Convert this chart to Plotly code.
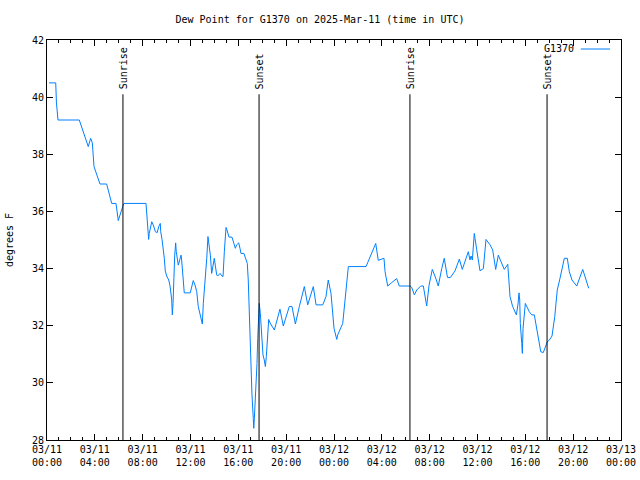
import pandas as pd
import plotly.graph_objects as go

# hours since 2025-03-11 00:00 UTC
hours = [0.17, 0.73, 0.79, 0.92, 2.70, 3.45, 3.65, 3.79, 3.93, 4.43, 4.99, 5.41, 5.77, 5.96, 6.33, 6.44,
         8.28, 8.39, 8.50, 8.55, 8.76, 8.92, 9.06, 9.22, 9.34, 9.47, 9.51, 9.62, 9.73, 9.81, 9.89, 10.01,
         10.18, 10.29, 10.43, 10.48, 10.54, 10.60, 10.68, 10.76, 10.81, 10.98, 11.10, 11.21, 11.26, 11.35,
         11.46, 11.48, 11.98, 12.10, 12.23, 12.38, 12.52, 12.65, 12.79, 12.99, 13.07, 13.19, 13.27, 13.36,
         13.46, 13.55, 13.66, 13.77, 13.88, 13.99, 14.07, 14.19, 14.27, 14.47, 14.63, 14.72, 14.83, 14.97,
         15.05, 15.22, 15.47, 15.58, 15.75, 15.86, 16.03, 16.14, 16.22, 16.47, 16.62, 16.75, 16.83, 16.92,
         16.98, 17.06, 17.14, 17.25, 17.29, 17.34, 17.42, 17.48, 17.56, 17.62, 17.67, 17.75, 17.84, 17.90,
         18.00, 18.06, 18.17, 18.26, 18.34, 18.40, 18.45, 18.54, 18.65, 18.82, 19.01, 19.13, 19.26, 19.48,
         19.76, 20.26, 20.49, 20.77, 21.10, 21.52, 21.80, 22.27, 22.50, 23.06, 23.33, 23.52, 23.75, 24.00,
         24.23, 24.31, 24.73, 24.95, 25.20, 26.68, 26.95, 27.49, 27.70, 27.93, 28.18, 28.27, 28.49, 28.83,
         29.24, 29.46, 30.36, 30.50, 30.72, 30.92, 31.25, 31.47, 31.61, 31.75, 31.95, 32.22, 32.51, 32.72,
         33.01, 33.22, 33.49, 33.74, 34.12, 34.48, 34.73, 35.23, 35.37, 35.46, 35.57, 35.73, 35.93, 36.10,
         36.21, 36.49, 36.71, 37.05, 37.27, 37.52, 37.74, 37.97, 38.24, 38.53, 38.63, 38.72, 38.94, 39.25,
         39.39, 39.47, 39.53, 39.58, 39.70, 39.75, 39.81, 40.00, 40.33, 40.53, 40.75, 40.95, 41.09, 41.29,
         41.50, 41.70, 41.84, 42.01, 42.23, 42.46, 42.67, 42.90, 43.12, 43.26, 43.51, 43.68, 43.90, 44.30,
         44.80, 45.05, 45.30]
dew_point = [40.5, 40.5, 39.8, 39.2, 39.2, 38.27, 38.56, 38.4, 37.57, 36.96, 36.96, 36.28, 36.28, 35.68, 36.17, 36.28,
             36.28, 35.64, 35.02, 35.23, 35.64, 35.49, 35.29, 35.26, 35.47, 35.58, 35.29, 35.02, 34.67, 34.36, 33.92, 33.74,
             33.6, 33.39, 32.9, 32.38, 32.78, 33.6, 34.47, 34.9, 34.59, 34.12, 34.3, 34.47, 34.3, 33.89,
             33.39, 33.15, 33.15, 33.37, 33.58, 33.42, 33.19, 32.67, 32.38, 32.06, 32.78, 33.34, 33.83, 34.36,
             35.12, 34.88, 34.47, 33.83, 34.12, 34.36, 34.12, 33.78, 33.74, 33.83, 33.74, 33.72, 34.59, 35.44,
             35.35, 35.1, 35.1, 34.94, 34.71, 34.83, 34.9, 34.71, 34.53, 34.53, 34.36, 34.18, 33.6, 32.43,
             31.33, 30.33, 29.58, 28.76, 28.41, 28.76, 29.4, 29.98, 30.68, 31.56, 32.38, 32.78, 32.43, 31.91,
             31.33, 30.98, 30.8, 30.57, 30.92, 31.38, 31.96, 32.22, 32.1, 31.96, 31.85, 32.03, 32.26, 32.58,
             31.99, 32.67, 32.67, 32.06, 32.67, 33.37, 32.73, 33.37, 32.73, 32.73, 33.02, 33.6, 33.13, 31.91,
             31.52, 31.68, 32.08, 33.02, 34.07, 34.07, 34.36, 34.88, 34.29, 34.33, 34.36, 33.89, 33.39, 33.51,
             33.65, 33.39, 33.39, 33.34, 33.08, 33.25, 33.39, 33.39, 33.02, 32.69, 33.42, 33.97, 33.66, 33.39,
             34.0, 34.36, 33.69, 33.69, 33.92, 34.33, 33.97, 34.59, 34.3, 34.44, 34.3, 35.23, 34.67, 34.18,
             33.92, 34.0, 35.02, 34.83, 34.65, 33.97, 34.47, 34.24, 33.97, 34.15, 33.6, 33.02, 32.67, 32.38,
             32.76, 33.15, 32.9, 32.08, 31.38, 31.03, 31.91, 32.78, 32.49, 32.38, 32.38, 31.91, 31.5, 31.09,
             31.06, 31.33, 31.44, 31.5, 31.64, 32.32, 33.25, 33.66, 34.07, 34.36, 34.36, 33.89, 33.6, 33.39,
             33.97, 33.66, 33.31]

sun_events = ["2025-03-11 06:21", "2025-03-11 17:44", "2025-03-12 06:21", "2025-03-12 17:49"]
sun_labels = ["Sunrise", "Sunset", "Sunrise", "Sunset"]

tick_times = pd.date_range("2025-03-11 00:00", "2025-03-13 00:00", freq="4h")
tick_text = [t.strftime("%m/%d<br>%H:%M") for t in tick_times]
y_ticks = [28, 30, 32, 34, 36, 38, 40, 42]

start = pd.Timestamp("2025-03-11 00:00")
times = [start + pd.Timedelta(hours=h) for h in hours]

FONT = "DejaVu Sans Mono"
fig = go.Figure()
fig.add_trace(go.Scatter(x=times, y=dew_point, mode="lines", name="G1370",
                         line=dict(color="#0080ff", width=1), showlegend=False))

for t, lab in zip(sun_events, sun_labels):
    fig.add_shape(type="line", x0=t, x1=t, y0=28, y1=40.1, xref="x", yref="y",
                  line=dict(color="black", width=1))
    fig.add_annotation(x=t, y=40.2, xref="x", yref="y", text=lab, textangle=-90,
                       showarrow=False, xanchor="center", yanchor="bottom",
                       font=dict(family=FONT, size=10, color="black"))

# legend (gnuplot style: text then line sample)
fig.add_annotation(x=0.922, y=0.9775, xref="paper", yref="paper", text="G1370", showarrow=False,
                   xanchor="right", yanchor="middle", font=dict(family=FONT, size=10, color="black"))
fig.add_shape(type="line", x0=0.930, x1=0.981, y0=0.9775, y1=0.9775, xref="paper", yref="paper",
              line=dict(color="#0080ff", width=1))

fig.update_layout(
    width=640, height=480,
    margin=dict(l=47, r=19, t=40, b=40),
    paper_bgcolor="white", plot_bgcolor="white",
    font=dict(family=FONT, size=10, color="black"),
    title=dict(text="Dew Point for G1370 on 2025-Mar-11 (time in UTC)", x=0.5, xanchor="center",
               y=1 - 19 / 480, yanchor="middle", font=dict(family=FONT, size=10, color="black")),
)
fig.update_xaxes(range=[tick_times[0], tick_times[-1]], tickvals=list(tick_times), ticktext=tick_text,
                 automargin=False,
                 ticks="inside", ticklen=6, tickcolor="black", showgrid=False, zeroline=False,
                 showline=True, linecolor="black", linewidth=1, mirror="ticks",
                 minor=dict(dtick=3600000, ticks="inside", ticklen=3, tickcolor="black", showgrid=False),
                 tickfont=dict(family=FONT, size=10))
fig.update_yaxes(range=[28, 42], tickvals=y_ticks, ticks="inside", ticklen=6, tickcolor="black",
                 automargin=False,
                 showgrid=False, zeroline=False, showline=True, linecolor="black", linewidth=1,
                 mirror="ticks", title=dict(text="degrees F", standoff=16, font=dict(family=FONT, size=10)),
                 tickfont=dict(family=FONT, size=10))

fig.write_html("out.html")
